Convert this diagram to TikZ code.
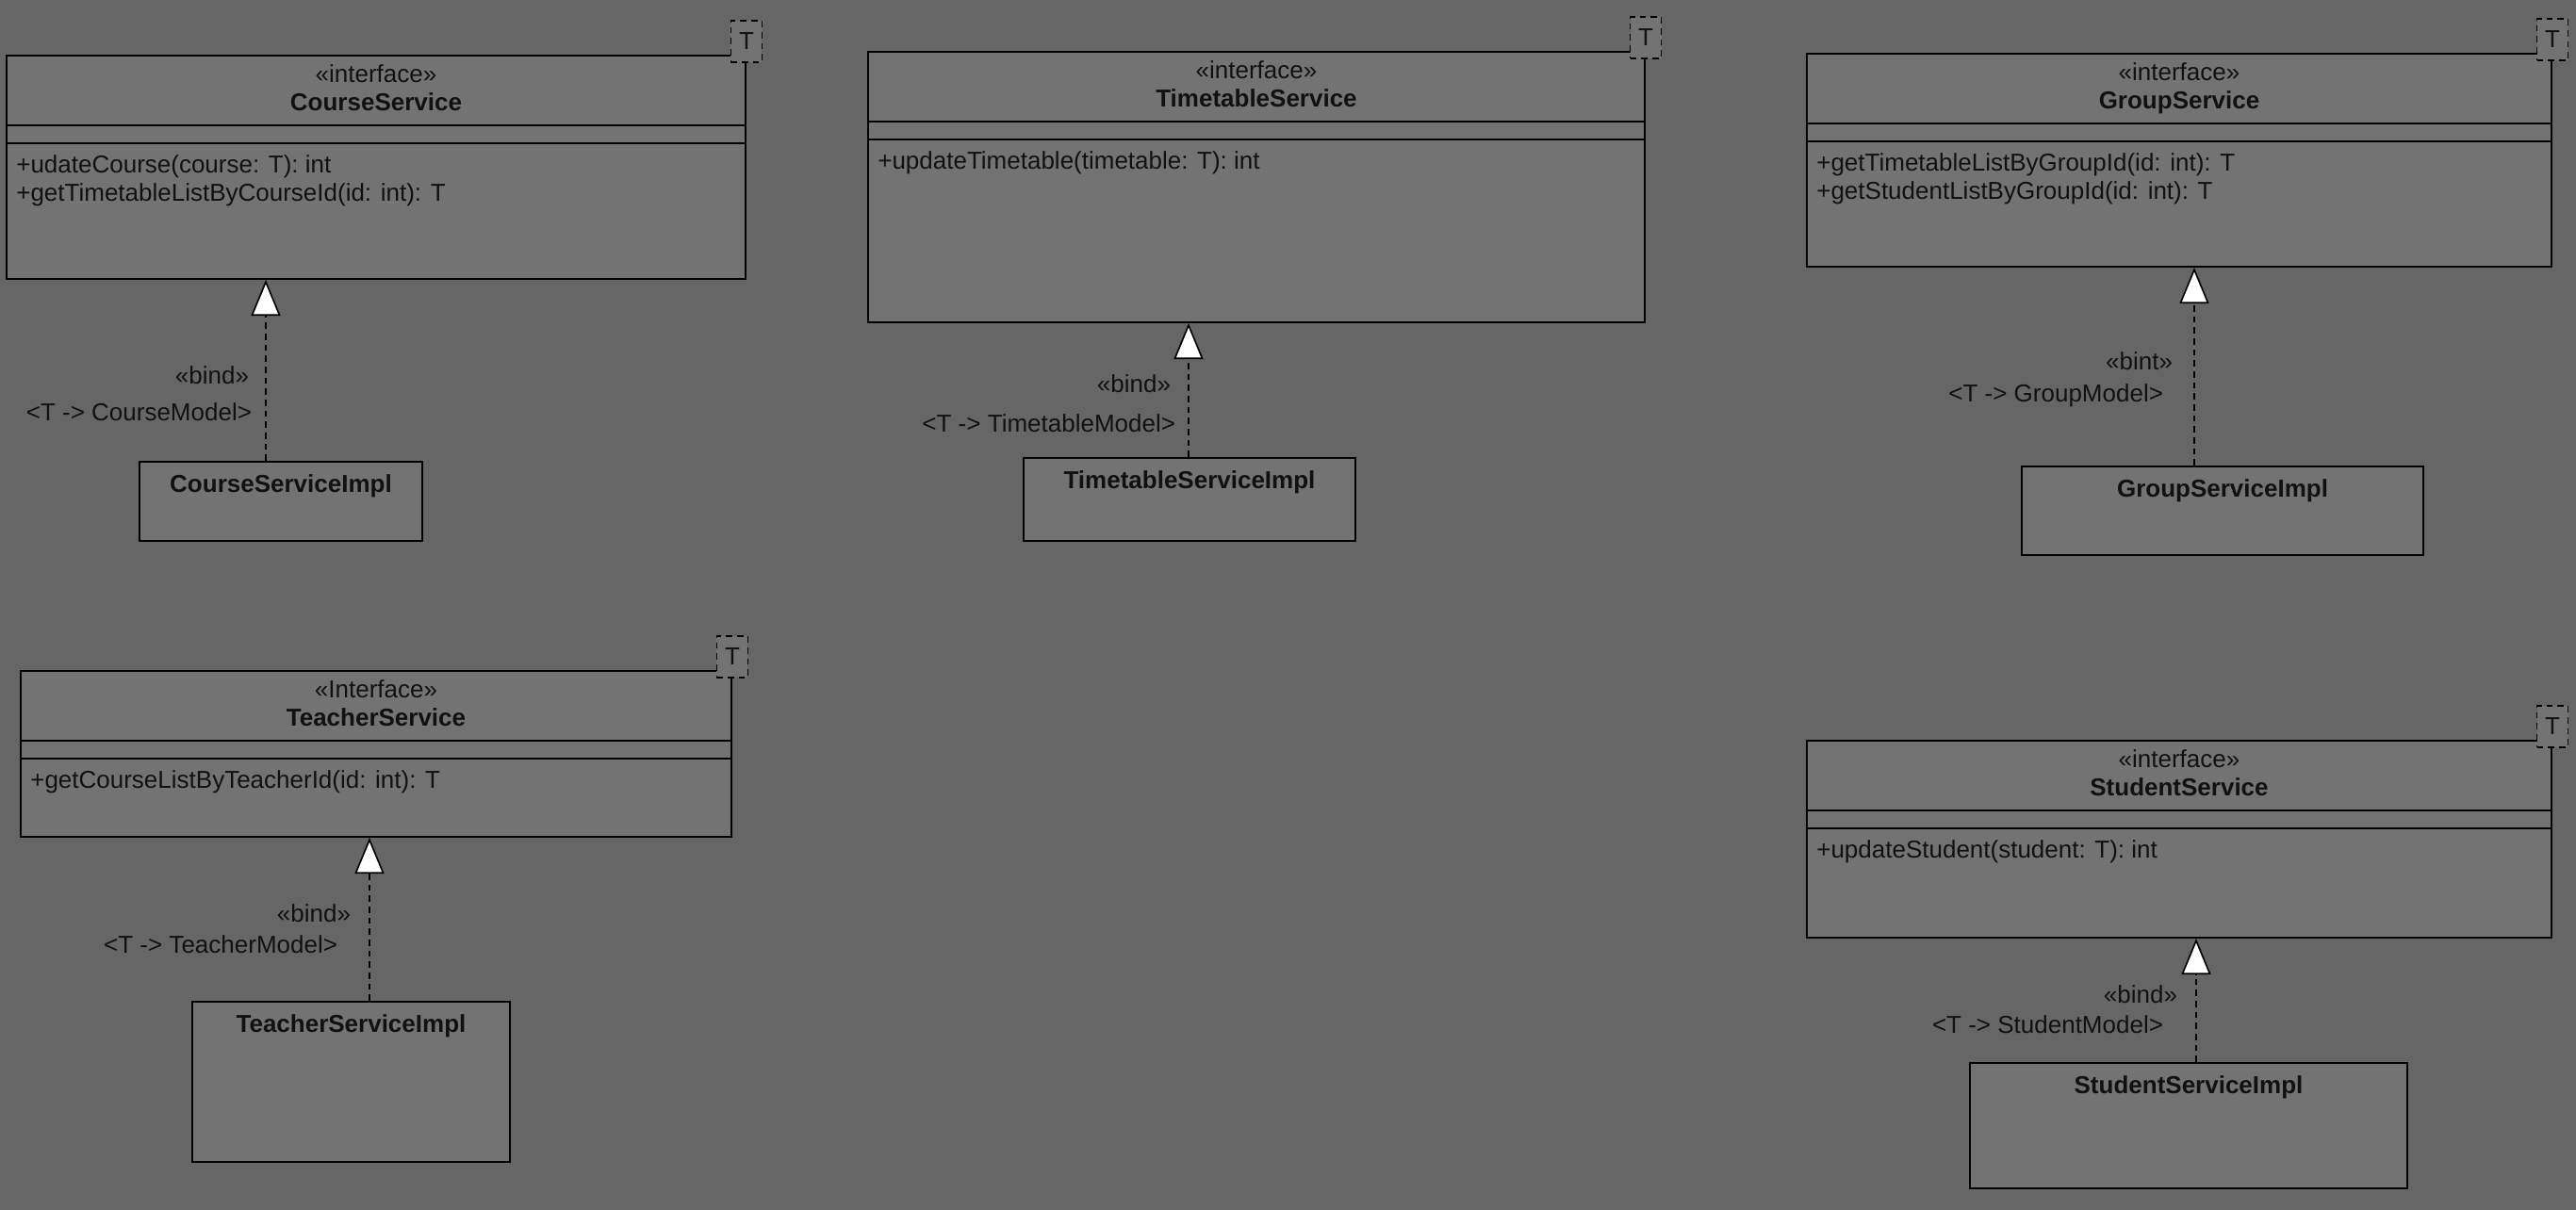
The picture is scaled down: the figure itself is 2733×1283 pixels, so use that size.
\documentclass[tikz,border=0pt]{standalone}
\usepackage{fontspec}
\setmainfont{Liberation Sans}
\usetikzlibrary{arrows.meta}
\definecolor{bg}{HTML}{666666}
\definecolor{boxfill}{HTML}{737373}
\definecolor{ink}{HTML}{111111}

\begin{document}
\begin{tikzpicture}[x=0.3pt, y=-0.3pt, line width=0.6pt]
        \tikzstyle{every node}=[font=\fontsize{7.8}{9.4}\selectfont, text=ink, inner sep=0pt]
        \tikzstyle{iface}=[draw, fill=boxfill, anchor=north west]
        \tikzstyle{impl}=[draw, fill=boxfill, anchor=north west]
        \tikzstyle{tparam}=[draw, dash pattern=on 2pt off 1.5pt, line width=0.5pt, fill=boxfill, minimum width=9.9pt, minimum height=13.2pt]
        \tikzstyle{realize}=[dash pattern=on 2pt off 1.5pt, line width=0.5pt, -{Triangle[width=9.3pt, length=11.4pt, fill=white]}]
        \tikzstyle{member}=[anchor=base west]
        \tikzstyle{bindtext}=[anchor=base east]
        \useasboundingbox (0,0) rectangle (2733,1283);
        \fill[bg] (-10,-10) rectangle (2743,1293);

        % CourseService
        \node [iface, minimum width=235.2pt, minimum height=71.1pt] (cs) at (6,58) {};
        \node [anchor=base] (cs-st) at ([yshift=-8.9pt]cs.north) {«interface»};
        \node [anchor=base, font=\fontsize{7.8}{9.4}\selectfont\bfseries] (cs-name) at ([yshift=-17.8pt]cs.north) {CourseService};
        \node [member] (cs-m1) at ([xshift=3.1pt, yshift=-37.7pt]cs.north west) {+udateCourse(course: T): int};
        \node [member] (cs-m2) at ([xshift=3.1pt, yshift=-46.6pt]cs.north west) {+getTimetableListByCourseId(id: int): T};
        \node [impl, minimum width=90pt, minimum height=25.2pt] (csimpl) at (147,489) {};
        \node [anchor=base, font=\fontsize{7.8}{9.4}\selectfont\bfseries] (csimpl-name) at ([yshift=-9.9pt]csimpl.north) {CourseServiceImpl};

        % TimetableService
        \node [iface, minimum width=247.2pt, minimum height=86.1pt] (ts) at (920,54) {};
        \node [anchor=base] (ts-st) at ([yshift=-8.9pt]ts.north) {«interface»};
        \node [anchor=base, font=\fontsize{7.8}{9.4}\selectfont\bfseries] (ts-name) at ([yshift=-17.8pt]ts.north) {TimetableService};
        \node [member] (ts-m1) at ([xshift=3.1pt, yshift=-37.7pt]ts.north west) {+updateTimetable(timetable: T): int};
        \node [impl, minimum width=105.6pt, minimum height=26.4pt] (tsimpl) at (1085,485) {};
        \node [anchor=base, font=\fontsize{7.8}{9.4}\selectfont\bfseries] (tsimpl-name) at ([yshift=-9.9pt]tsimpl.north) {TimetableServiceImpl};

        % GroupService
        \node [iface, minimum width=237pt, minimum height=67.8pt] (gs) at (1916,56) {};
        \node [anchor=base] (gs-st) at ([yshift=-8.9pt]gs.north) {«interface»};
        \node [anchor=base, font=\fontsize{7.8}{9.4}\selectfont\bfseries] (gs-name) at ([yshift=-17.8pt]gs.north) {GroupService};
        \node [member] (gs-m1) at ([xshift=3.1pt, yshift=-37.7pt]gs.north west) {+getTimetableListByGroupId(id: int): T};
        \node [member] (gs-m2) at ([xshift=3.1pt, yshift=-46.6pt]gs.north west) {+getStudentListByGroupId(id: int): T};
        \node [impl, minimum width=127.8pt, minimum height=28.2pt] (gsimpl) at (2144,494) {};
        \node [anchor=base, font=\fontsize{7.8}{9.4}\selectfont\bfseries] (gsimpl-name) at ([yshift=-9.9pt]gsimpl.north) {GroupServiceImpl};

        % TeacherService
        \node [iface, minimum width=226.2pt, minimum height=52.8pt] (tcs) at (21,711) {};
        \node [anchor=base] (tcs-st) at ([yshift=-8.9pt]tcs.north) {«Interface»};
        \node [anchor=base, font=\fontsize{7.8}{9.4}\selectfont\bfseries] (tcs-name) at ([yshift=-17.8pt]tcs.north) {TeacherService};
        \node [member] (tcs-m1) at ([xshift=3.1pt, yshift=-37.7pt]tcs.north west) {+getCourseListByTeacherId(id: int): T};
        \node [impl, minimum width=101.1pt, minimum height=51pt] (tcsimpl) at (203,1062) {};
        \node [anchor=base, font=\fontsize{7.8}{9.4}\selectfont\bfseries] (tcsimpl-name) at ([yshift=-9.9pt]tcsimpl.north) {TeacherServiceImpl};

        % StudentService
        \node [iface, minimum width=237pt, minimum height=62.7pt] (ss) at (1916,785) {};
        \node [anchor=base] (ss-st) at ([yshift=-8.9pt]ss.north) {«interface»};
        \node [anchor=base, font=\fontsize{7.8}{9.4}\selectfont\bfseries] (ss-name) at ([yshift=-17.8pt]ss.north) {StudentService};
        \node [member] (ss-m1) at ([xshift=3.1pt, yshift=-37.7pt]ss.north west) {+updateStudent(student: T): int};
        \node [impl, minimum width=139.2pt, minimum height=39.9pt] (ssimpl) at (2089,1127) {};
        \node [anchor=base, font=\fontsize{7.8}{9.4}\selectfont\bfseries] (ssimpl-name) at ([yshift=-9.9pt]ssimpl.north) {StudentServiceImpl};

        % compartments and template parameters
        \foreach \c in {cs, ts, gs, tcs, ss} {
          \draw ([yshift=-22.5pt]\c.north west) -- ([yshift=-22.5pt]\c.north east)
                ([yshift=-28.2pt]\c.north west) -- ([yshift=-28.2pt]\c.north east);
          \node [tparam] (\c-T) at ([yshift=4.2pt]\c.north east) {T};
        }

        % bindings
        \coordinate (csx) at (282,0);
        \coordinate (tsx) at (1261,0);
        \coordinate (gsx) at (2328,0);
        \coordinate (tcsx) at (392,0);
        \coordinate (ssx) at (2330,0);
        \draw[realize] (csimpl.north -| csx) -- (cs.south -| csx);
        \draw[realize] (tsimpl.north -| tsx) -- (ts.south -| tsx);
        \draw[realize] (gsimpl.north -| gsx) -- (gs.south -| gsx);
        \draw[realize] (tcsimpl.north -| tcsx) -- (tcs.south -| tcsx);
        \draw[realize] (ssimpl.north -| ssx) -- (ss.south -| ssx);
        \node [bindtext] (cs-bind) at (265,407) {«bind»};
        \node [bindtext] (cs-arg) at (268,446) {<T -> CourseModel>};
        \node [bindtext] (ts-bind) at (1243,416) {«bind»};
        \node [bindtext] (ts-arg) at (1248,458) {<T -> TimetableModel>};
        \node [bindtext] (gs-bind) at (2306,392) {«bint»};
        \node [bindtext] (gs-arg) at (2296,426) {<T -> GroupModel>};
        \node [bindtext] (tcs-bind) at (373,978) {«bind»};
        \node [bindtext] (tcs-arg) at (359,1011) {<T -> TeacherModel>};
        \node [bindtext] (ss-bind) at (2311,1064) {«bind»};
        \node [bindtext] (ss-arg) at (2296,1096) {<T -> StudentModel>};
\end{tikzpicture}
\end{document}
